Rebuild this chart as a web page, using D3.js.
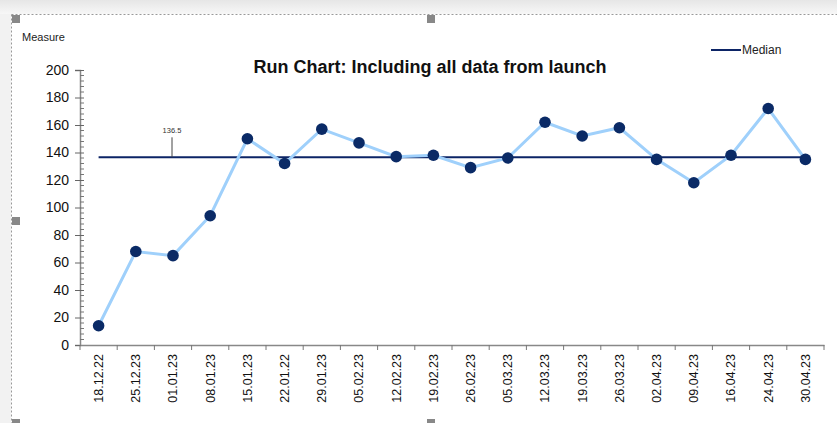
<!DOCTYPE html>
<html><head><meta charset="utf-8">
<script src="https://cdn.jsdelivr.net/npm/d3@7"></script>
<style>body{margin:0;background:#fff}svg{display:block;font-family:"Liberation Sans",Arial,sans-serif}</style>
</head><body>
<svg id="c" width="837" height="423"></svg>
<script>
const categories = ["18.12.22","25.12.23","01.01.23","08.01.23","15.01.23","22.01.22","29.01.23","05.02.23","12.02.23","19.02.23","26.02.23","05.03.23","12.03.23","19.03.23","26.03.23","02.04.23","09.04.23","16.04.23","24.04.23","30.04.23"];
const measure = [14,68,65,94,150,132,157,147,137,138,129,136,162,152,158,135,118,138,172,135];
const medianValue = 136.5;
const yTicks = [0,20,40,60,80,100,120,140,160,180,200];

(function(){
const svg = d3.select("#c");
const grad = svg.append("defs").append("linearGradient").attr("id","tg").attr("x1",0).attr("y1",0).attr("x2",0).attr("y2",1);
grad.append("stop").attr("offset","0%").attr("stop-color","#e6e6e6");
grad.append("stop").attr("offset","100%").attr("stop-color","#f7f7f7");
svg.append("rect").attr("x",0).attr("y",0).attr("width",837).attr("height",14).attr("fill","url(#tg)");
svg.append("rect").attr("x",0).attr("y",14).attr("width",11).attr("height",409).attr("fill","#f2f2f2");
svg.append("line").attr("x1",11.5).attr("x2",837).attr("y1",14.5).attr("y2",14.5).attr("stroke","#999").attr("stroke-dasharray","2,2");
svg.append("line").attr("x1",11.5).attr("x2",11.5).attr("y1",14.5).attr("y2",423).attr("stroke","#999").attr("stroke-dasharray","2,2");
[[12,15],[427,15],[12,217],[427,419],[12,419]].forEach(([px,py])=>svg.append("rect").attr("x",px).attr("y",py).attr("width",8).attr("height",8).attr("fill","#888"));

const mLeft=80, mRight=824, mTop=70, mBottom=345;
const x = d3.scaleBand().domain(categories).range([mLeft,mRight]);
const y = d3.scaleLinear().domain([0,200]).range([mBottom,mTop]);

const yAxis = svg.append("g").attr("transform",`translate(${mLeft},0)`)
  .call(d3.axisLeft(y).tickValues(yTicks).tickSize(5).tickPadding(6));
yAxis.select(".domain").attr("stroke","#888").attr("stroke-width",1.5);
yAxis.selectAll(".tick line").attr("stroke","#666").attr("x2",4).attr("x1",-5);
yAxis.selectAll(".tick text").attr("font-size",14).attr("fill","#111").attr("font-family","Liberation Sans, Arial");
const minor = d3.range(0,201,4).filter(v=>v%20!==0);
svg.append("g").selectAll("line").data(minor).join("line")
  .attr("x1",mLeft).attr("x2",mLeft+4).attr("y1",d=>y(d)).attr("y2",d=>y(d)).attr("stroke","#777");

const xAxis = svg.append("g").attr("transform",`translate(0,${mBottom})`)
  .call(d3.axisBottom(x).tickSize(0).tickPadding(0));
xAxis.select(".domain").attr("stroke","#888").attr("stroke-width",1.5);
xAxis.selectAll(".tick text").attr("font-size",12.5).attr("fill","#111").attr("font-family","Liberation Sans, Arial")
  .attr("transform","rotate(-90)").attr("text-anchor","end").attr("dy","0.35em").attr("x",-9).attr("y",0);
const bounds = categories.map(c=>x(c)+x.bandwidth()).concat([mLeft]);
svg.append("g").selectAll("line").data(bounds).join("line")
  .attr("x1",d=>d).attr("x2",d=>d).attr("y1",mBottom).attr("y2",mBottom+5).attr("stroke","#777");

const cx = c=>x(c)+x.bandwidth()/2;
svg.append("line").attr("x1",cx(categories[0])).attr("x2",cx(categories[categories.length-1]))
  .attr("y1",y(medianValue)).attr("y2",y(medianValue)).attr("stroke","#0c2466").attr("stroke-width",2);
const mlx = 172;
svg.append("line").attr("x1",mlx).attr("x2",mlx).attr("y1",y(medianValue)-20).attr("y2",y(medianValue)).attr("stroke","#444").attr("stroke-width",1);
svg.append("text").attr("x",mlx).attr("y",y(medianValue)-24).attr("text-anchor","middle").attr("font-size",7.5).attr("fill","#333").text(String(medianValue));

const pts = categories.map((c,i)=>[cx(c),y(measure[i])]);
svg.append("path").attr("d",d3.line()(pts)).attr("fill","none").attr("stroke","#9fd0fb").attr("stroke-width",3);
svg.append("g").selectAll("circle").data(pts).join("circle")
  .attr("cx",d=>d[0]).attr("cy",d=>d[1]).attr("r",5.8).attr("fill","#0a2a66");

svg.append("text").attr("x",430).attr("y",73).attr("text-anchor","middle").attr("font-size",18).attr("font-weight","bold").attr("fill","#111").text("Run Chart: Including all data from launch");
svg.append("text").attr("x",22).attr("y",41).attr("font-size",11).attr("fill","#222").text("Measure");
svg.append("line").attr("x1",711).attr("x2",741).attr("y1",50).attr("y2",50).attr("stroke","#0c2466").attr("stroke-width",2);
svg.append("text").attr("x",742).attr("y",54).attr("font-size",12).attr("fill","#222").text("Median");
})();
</script>
</body></html>
